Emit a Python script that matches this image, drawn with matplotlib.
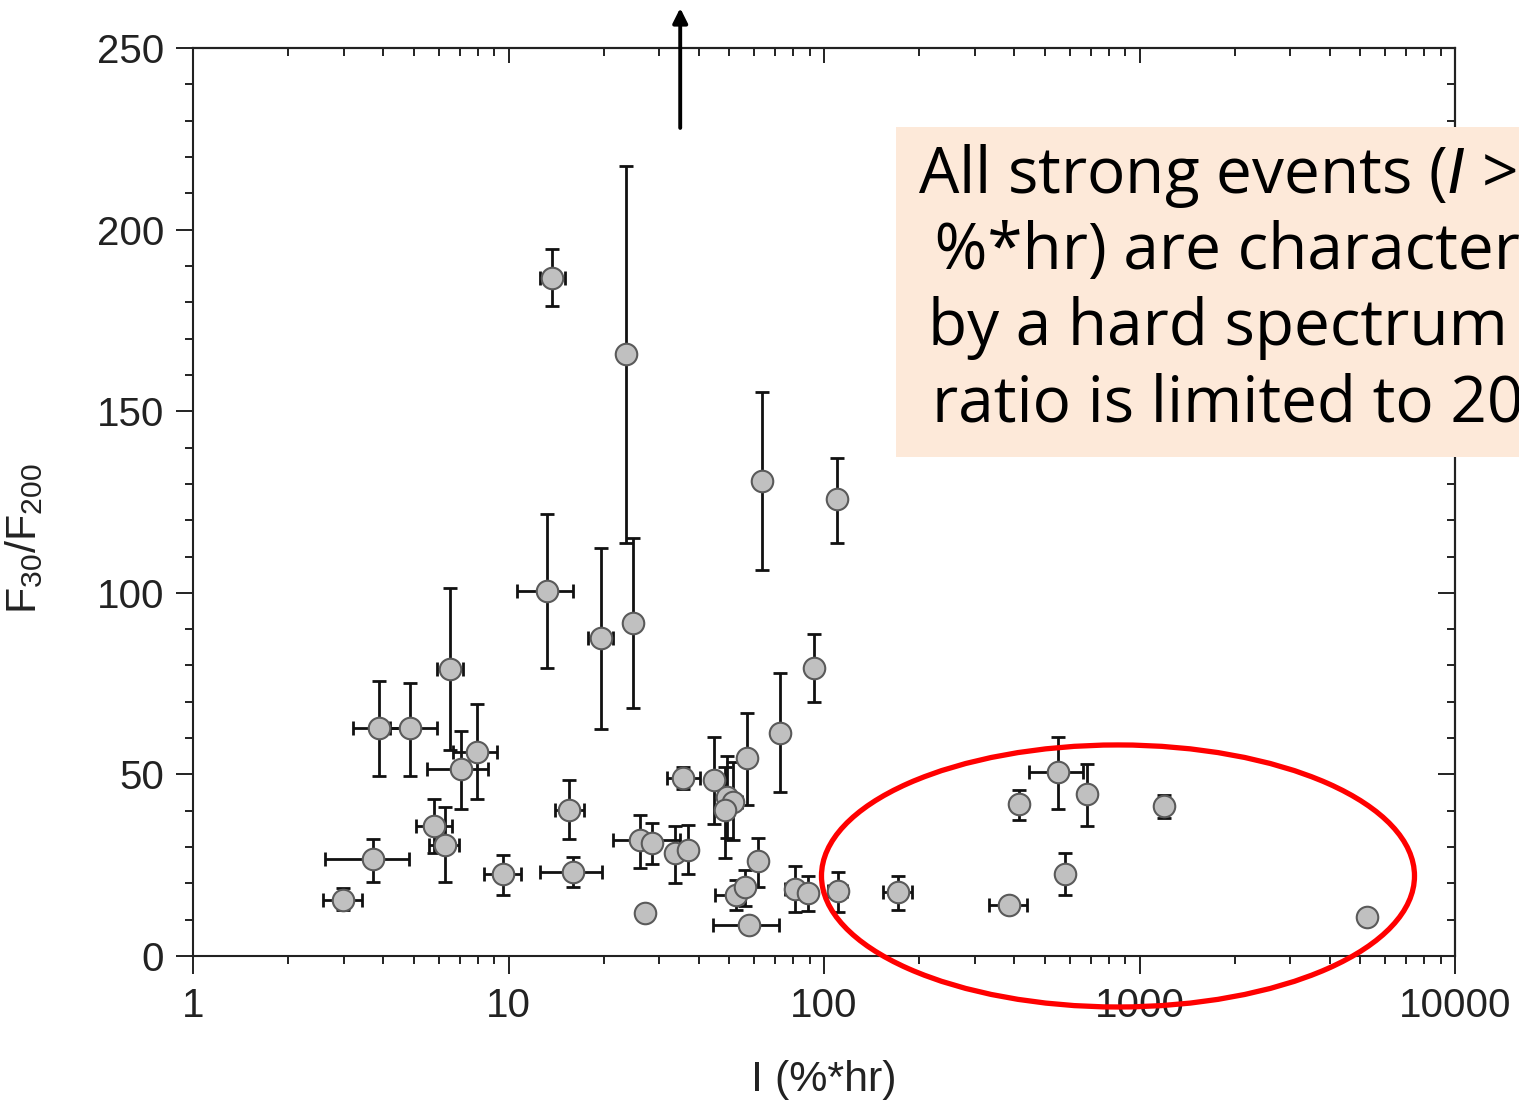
import numpy as np
import matplotlib
matplotlib.use("Agg")
import matplotlib.pyplot as plt
from matplotlib.patches import Ellipse, Rectangle
from matplotlib.ticker import FixedLocator, MultipleLocator, FuncFormatter, LogLocator, NullFormatter

plt.rcParams['font.family'] = ['Liberation Sans', 'DejaVu Sans']
plt.rcParams['mathtext.fontset'] = 'custom'
plt.rcParams['mathtext.rm'] = 'Liberation Sans'
plt.rcParams['mathtext.it'] = 'Liberation Sans:italic'

# event intensity I (%*hr) and F30/F200 ratio, with error bounds
x = [2.99, 3.72, 3.89, 4.87, 5.81, 6.29, 6.53, 7.07, 7.95, 9.61,
     13.2, 13.7, 15.5, 16.0, 19.6, 23.6, 24.8, 26.1, 27.1, 28.5,
     33.7, 35.7, 37.1, 44.8, 49.3, 51.5, 48.6, 57.0, 72.5, 93.0,
     61.8, 52.4, 56.2, 57.8, 81.0, 89.0, 110.6, 110.0, 63.5, 171.6,
     385.7, 415.0, 551.0, 580.0, 682.0, 1196.0, 5260.0]
y = [15.4, 26.7, 62.8, 62.8, 35.8, 30.6, 79.0, 51.5, 56.2, 22.6,
     100.5, 186.7, 40.2, 23.1, 87.6, 165.7, 91.7, 31.9, 11.8, 31.1,
     28.4, 49.0, 29.2, 48.5, 43.8, 42.4, 40.2, 54.5, 61.4, 79.3,
     26.2, 16.8, 19.0, 8.5, 18.4, 17.3, 17.9, 125.8, 130.8, 17.6,
     14.0, 41.8, 50.7, 22.6, 44.6, 41.3, 10.7]
y_lo = [12.6, 20.4, 49.6, 49.6, 28.4, 20.4, 56.7, 40.5, 43.2, 16.8,
        79.3, 179.0, 32.2, 19.0, 62.5, 113.7, 68.3, 24.2, 10.0, 25.3,
        20.1, 46.0, 22.6, 36.3, 32.5, 32.0, 27.0, 41.6, 45.2, 69.9,
        19.0, 12.7, 13.8, 8.5, 12.1, 12.4, 12.1, 113.7, 106.3, 12.7,
        12.8, 37.4, 40.5, 16.8, 35.8, 38.0, 9.8]
y_hi = [18.7, 32.2, 75.8, 75.2, 43.2, 41.0, 101.3, 62.0, 69.4, 27.8,
        121.7, 194.7, 48.5, 27.3, 112.3, 217.5, 115.0, 38.8, 13.8, 36.6,
        35.8, 52.0, 36.1, 60.3, 55.1, 53.5, 52.0, 66.9, 77.9, 88.7,
        32.5, 20.9, 23.7, 8.5, 24.8, 22.0, 23.1, 137.1, 155.3, 22.0,
        15.2, 45.7, 60.3, 28.4, 52.9, 44.3, 11.6]
x_lo = [2.58, 2.62, 3.21, 4.20, 5.10, 5.60, 5.94, 5.52, 6.68, 8.37,
        10.6, 12.6, 14.0, 12.6, 17.9, 23.6, 24.8, 21.4, 26.2, 28.5,
        33.7, 31.8, 35.6, 43.5, 49.3, 48.0, 47.0, 57.0, 70.5, 90.5,
        59.5, 45.1, 53.0, 44.6, 75.0, 89.0, 103.0, 106.0, 63.5, 154.0,
        333.0, 400.0, 447.0, 565.0, 665.0, 1196.0, 5150.0]
x_hi = [3.43, 4.84, 4.60, 5.93, 6.63, 6.97, 7.19, 8.60, 9.20, 10.96,
        16.0, 15.1, 17.3, 19.8, 21.5, 23.6, 24.8, 35.0, 28.0, 28.5,
        33.7, 40.4, 38.6, 46.5, 49.3, 55.0, 50.0, 57.0, 74.5, 95.5,
        64.0, 56.0, 59.5, 72.1, 84.0, 89.0, 118.0, 114.0, 63.5, 190.0,
        439.0, 430.0, 664.0, 595.0, 700.0, 1196.0, 5370.0]

# off-scale event shown as an arrow
arrow_x = 35.0
arrow_from = 228
arrow_to = 261

x = np.array(x); y = np.array(y)
yerr = [y - np.array(y_lo), np.array(y_hi) - y]
xerr = [x - np.array(x_lo), np.array(x_hi) - x]

fig = plt.figure(figsize=(15.19, 11.07), dpi=100)
ax = fig.add_axes([0.1271, 0.1364, 0.8308, 0.8202])

ax.errorbar(x, y, yerr=yerr, xerr=xerr, fmt='none', ecolor='#111111',
            elinewidth=2.0, capsize=5, capthick=2.0, zorder=2)
ax.plot(x, y, 'o', ms=15.5, mfc='#c0c0c0', mec='#5a5a5a', mew=1.5, zorder=3)

ax.annotate('', xy=(arrow_x, arrow_to), xytext=(arrow_x, arrow_from),
            arrowprops=dict(arrowstyle='-|>', color='black', lw=2.8,
                            mutation_scale=22, shrinkA=0, shrinkB=0),
            annotation_clip=False)

ax.set_xscale('log')
ax.set_xlim(1, 10000)
ax.set_ylim(0, 250)
ax.xaxis.set_major_locator(FixedLocator([1, 10, 100, 1000, 10000]))
ax.xaxis.set_minor_locator(LogLocator(base=10, subs=np.arange(2, 10)))
ax.xaxis.set_major_formatter(FuncFormatter(lambda v, p: '%g' % v))
ax.xaxis.set_minor_formatter(NullFormatter())
ax.yaxis.set_major_locator(MultipleLocator(50))
ax.yaxis.set_minor_locator(MultipleLocator(10))

for s in ax.spines.values():
    s.set_linewidth(1.5)
    s.set_color('#222222')

ax.tick_params(axis='both', which='major', direction='out', length=12, width=1.4,
               labelsize=29, color='#222222', labelcolor='#222222', pad=9)
ax.tick_params(axis='both', which='minor', direction='out', length=6, width=1.4,
               color='#222222')
ax.tick_params(axis='x', which='major', length=13)

top = ax.secondary_xaxis('top', functions=(lambda v: v, lambda v: v))
top.set_xticks([1, 10, 100, 1000, 10000])
top.xaxis.set_minor_locator(LogLocator(base=10, subs=np.arange(2, 10)))
top.tick_params(which='major', direction='in', length=11, width=1.4, labeltop=False, color='#222222')
top.tick_params(which='minor', direction='in', length=6, width=1.4, color='#222222')
top.xaxis.set_minor_formatter(NullFormatter())
top.spines['top'].set_linewidth(1.5)

right = ax.secondary_yaxis('right', functions=(lambda v: v, lambda v: v))
right.yaxis.set_major_locator(MultipleLocator(50))
right.yaxis.set_minor_locator(MultipleLocator(10))
right.tick_params(which='major', direction='in', length=12, width=1.4, labelright=False, color='#222222')
right.tick_params(which='minor', direction='in', length=6, width=1.4, color='#222222')
right.spines['right'].set_linewidth(1.5)

ax.set_xlabel('I (%*hr)', fontsize=31, color='#222222')
ax.xaxis.set_label_coords(0.5, -0.115)
ax.set_ylabel(r'F$_{30}$/F$_{200}$', fontsize=31, color='#222222')
ax.yaxis.set_label_coords(-0.117, 0.46)

# highlighted group of strong events
fig.patches.append(Ellipse((0.736, 0.2087), 0.3904, 0.2367, transform=fig.transFigure,
                           fill=False, edgecolor='#ff0000', lw=3.8, zorder=10))

# note box (runs off the right edge, as in the original slide)
fig.patches.append(Rectangle((896 / 1519, 1 - 457 / 1107), 0.5, 330 / 1107,
                             transform=fig.transFigure, facecolor='#fde9d9',
                             edgecolor='none', zorder=5))
note_font = ['Open Sans', 'DejaVu Sans']
lines = [(918, 193, r'All strong events ($\it{I}$ >'),
         (918, 269, ' %*hr) are character'),
         (928, 345, 'by a hard spectrum'),
         (932, 421, 'ratio is limited to 20')]
for px, py, txt in lines:
    fig.text(px / 1519, 1 - py / 1107, txt, fontsize=46, family=note_font,
             va='baseline', ha='left', color='black', zorder=6)

fig.savefig('out.png', dpi=100)
